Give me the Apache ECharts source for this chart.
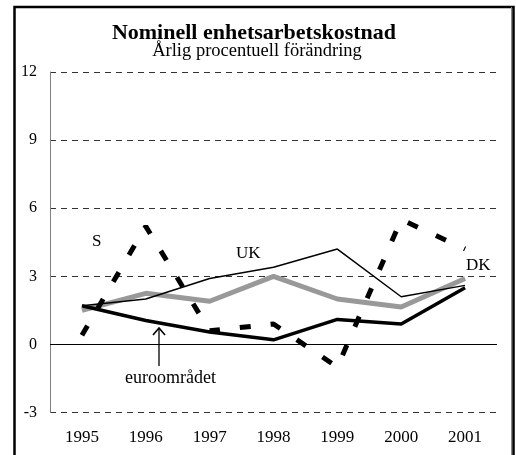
<!DOCTYPE html>
<html>
<head>
<meta charset="utf-8">
<script src="https://cdn.jsdelivr.net/npm/echarts@6/dist/echarts.min.js"></script>
<style>
  html, body { margin: 0; padding: 0; background: #fff; }
  #main { width: 516px; height: 455px; }
</style>
</head>
<body>
<div id="main"></div>
<script>
// data
var years = ['1995', '1996', '1997', '1998', '1999', '2000', '2001'];
var seriesS = [0.4, 5.2, 0.6, 0.9, -1.0, 5.5, 4.2];
var seriesUK = [1.7, 2.0, 2.9, 3.4, 4.2, 2.1, 2.6];
var seriesDK = [1.5, 2.25, 1.9, 3.0, 2.0, 1.65, 2.9];
var seriesEuro = [1.7, 1.05, 0.55, 0.2, 1.1, 0.9, 2.5];
var yTicks = [-3, 0, 3, 6, 9, 12];

var font = '"Liberation Serif", "Times New Roman", serif';

var chart = echarts.init(document.getElementById('main'));
chart.setOption({
  animation: false,
  textStyle: { fontFamily: font },
  title: [
    {
      text: 'Nominell enhetsarbetskostnad',
      left: 249, top: 17, textAlign: 'center',
      textStyle: { fontFamily: font, fontSize: 22, fontWeight: 'bold', color: '#000' }
    },
    {
      text: 'Årlig procentuell förändring',
      left: 252, top: 37, textAlign: 'center',
      textStyle: { fontFamily: font, fontSize: 18.5, fontWeight: 'normal', color: '#000' }
    }
  ],
  grid: { left: 50, right: 19, top: 72, bottom: 42.5 },
  xAxis: {
    type: 'category',
    data: years,
    boundaryGap: true,
    axisLine: { show: false },
    axisTick: { show: false },
    axisLabel: { color: '#000', fontSize: 17, fontFamily: font, margin: 17 }
  },
  yAxis: {
    type: 'value',
    min: yTicks[0], max: yTicks[yTicks.length - 1], interval: 3,
    axisLine: { show: true, lineStyle: { color: '#808080', width: 1 } },
    axisTick: { show: false },
    axisLabel: { color: '#000', fontSize: 16, fontFamily: font, margin: 13 },
    splitLine: { show: true, lineStyle: { color: '#333', width: 1, type: [6, 5] } }
  },
  series: [
    {
      name: 'DK', type: 'line', data: seriesDK, symbol: 'none',
      lineStyle: { color: '#999999', width: 5 }
    },
    {
      name: 'UK', type: 'line', data: seriesUK, symbol: 'none',
      lineStyle: { color: '#000', width: 1.5 }
    },
    {
      name: 'euroområdet', type: 'line', data: seriesEuro, symbol: 'none',
      lineStyle: { color: '#000', width: 3.5 },
      markLine: {
        silent: true, symbol: 'none', label: { show: false },
        lineStyle: { color: '#000', width: 1, type: 'solid' },
        data: [{ yAxis: 0 }]
      }
    },
    {
      name: 'S', type: 'line', data: seriesS, symbol: 'none',
      lineStyle: { color: '#000', width: 5, type: [11, 20] }
    }
  ],
  graphic: [
    { type: 'rect', shape: { x: 14.5, y: 7, width: 499, height: 460 },
      style: { fill: 'none', stroke: '#000', lineWidth: 2.5 }, z: 100 },
    { type: 'line', shape: { x1: 511.5, y1: 7, x2: 511.5, y2: 455 },
      style: { stroke: '#888', lineWidth: 1 }, z: 100 },
    { type: 'text', left: 92, top: 233,
      style: { text: 'S', font: '17px ' + font, fill: '#000' } },
    { type: 'text', left: 236, top: 245,
      style: { text: 'UK', font: '17px ' + font, fill: '#000' } },
    { type: 'text', left: 466, top: 257,
      style: { text: 'DK', font: '17px ' + font, fill: '#000' } },
    { type: 'text', left: 125, top: 369,
      style: { text: 'euroområdet', font: '18px ' + font, fill: '#000' } },
    { type: 'line', shape: { x1: 159, y1: 366, x2: 159, y2: 328 },
      style: { stroke: '#000', lineWidth: 1.3 } },
    { type: 'polyline', shape: { points: [[153, 335], [159, 328], [165, 335]] },
      style: { stroke: '#000', lineWidth: 1.6, fill: 'none' } }
  ]
});
</script>
</body>
</html>
